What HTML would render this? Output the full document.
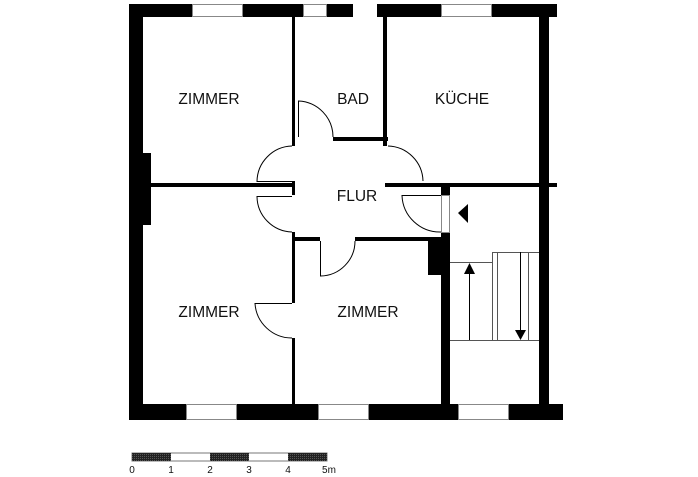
<!DOCTYPE html>
<html><head><meta charset="utf-8"><style>
html,body{margin:0;padding:0;background:#fff}
svg{display:block}
text{font-family:"Liberation Sans",Arial,sans-serif;fill:#111}
</style></head><body>
<svg width="698" height="477" viewBox="0 0 698 477" xmlns="http://www.w3.org/2000/svg">
<defs>
<pattern id="dots" width="2" height="2" patternUnits="userSpaceOnUse">
<rect width="2" height="2" fill="#222"/><rect width="1" height="1" fill="#555"/>
</pattern>
</defs>
<g fill="#000">
<rect x="129" y="4" width="428" height="13"/>
<rect x="129" y="4" width="14" height="416"/>
<rect x="129" y="404" width="434" height="16"/>
<rect x="539" y="4" width="10" height="416"/>
<rect x="129" y="153" width="22" height="72"/>
<rect x="292" y="17" width="3" height="129"/>
<rect x="292" y="181" width="3" height="14"/>
<rect x="292" y="232" width="3" height="71"/>
<rect x="292" y="338" width="3" height="66"/>
<rect x="143" y="183" width="150" height="4"/>
<rect x="333" y="137" width="55" height="4"/>
<rect x="383" y="17" width="4" height="129"/>
<rect x="385" y="183" width="172" height="4"/>
<rect x="441" y="186" width="9" height="9"/>
<rect x="441" y="232" width="9" height="172"/>
<rect x="292" y="237" width="28" height="4"/>
<rect x="355" y="237" width="86" height="4"/>
<rect x="428" y="237" width="13" height="38"/>
</g>
<g fill="#fff" stroke="#888" stroke-width="1">
<rect x="192.5" y="4.5" width="50" height="12"/>
<rect x="303.5" y="4.5" width="23" height="12"/>
<rect x="441.5" y="4.5" width="50" height="12"/>
<rect x="186.5" y="404.5" width="50" height="15"/>
<rect x="318.5" y="404.5" width="50" height="15"/>
<rect x="458.5" y="404.5" width="50" height="15"/>
<rect x="441.5" y="195.5" width="8" height="37"/>
</g>
<rect x="353" y="3" width="24" height="15" fill="#fff"/>
<g fill="none" stroke="#000" stroke-width="1">
<path d="M298.5,137 V101 A36,36 0 0 1 333,137"/>
<path d="M292,181.5 H257 A36,36 0 0 1 292,146"/>
<path d="M292,196.5 H257 A36,36 0 0 0 292,232"/>
<path d="M388,146 A36,36 0 0 1 423,181"/>
<path d="M441,195.5 H402 A38,38 0 0 0 441,232"/>
<path d="M320.5,241 V276 A35,35 0 0 0 355,241"/>
<path d="M292,303.5 H255 A37,37 0 0 0 292,338"/>
</g>
<g fill="none" stroke="#555" stroke-width="1">
<path d="M450,262.5 H492 M492.5,252 V340 M492,252.5 H539 M497.5,252 V340 M528.5,252 V340 M450,340.5 H539"/>
</g>
<g stroke="#000" stroke-width="1">
<line x1="469.5" y1="272" x2="469.5" y2="340"/>
<line x1="520.5" y1="252" x2="520.5" y2="331"/>
</g>
<g fill="#000">
<polygon points="464,274 475,274 469.5,263"/>
<polygon points="515,330 526,330 520.5,340"/>
<polygon points="458,213 468,204 468,223"/>
</g>
<g font-size="15.5" text-anchor="middle">
<text x="209" y="104">ZIMMER</text>
<text x="353" y="104">BAD</text>
<text x="462" y="104">KÜCHE</text>
<text x="357" y="201">FLUR</text>
<text x="209" y="317">ZIMMER</text>
<text x="368" y="317">ZIMMER</text>
</g>
<rect x="132" y="453" width="195" height="8" fill="#fff" stroke="#777" stroke-width="1"/>
<rect x="132" y="453" width="39" height="8" fill="url(#dots)"/>
<rect x="210" y="453" width="39" height="8" fill="url(#dots)"/>
<rect x="288" y="453" width="39" height="8" fill="url(#dots)"/>
<g font-size="10" fill="#333" text-anchor="middle">
<text x="132" y="473">0</text>
<text x="171" y="473">1</text>
<text x="210" y="473">2</text>
<text x="249" y="473">3</text>
<text x="288" y="473">4</text>
<text x="329" y="473">5m</text>
</g>
</svg>
</body></html>
